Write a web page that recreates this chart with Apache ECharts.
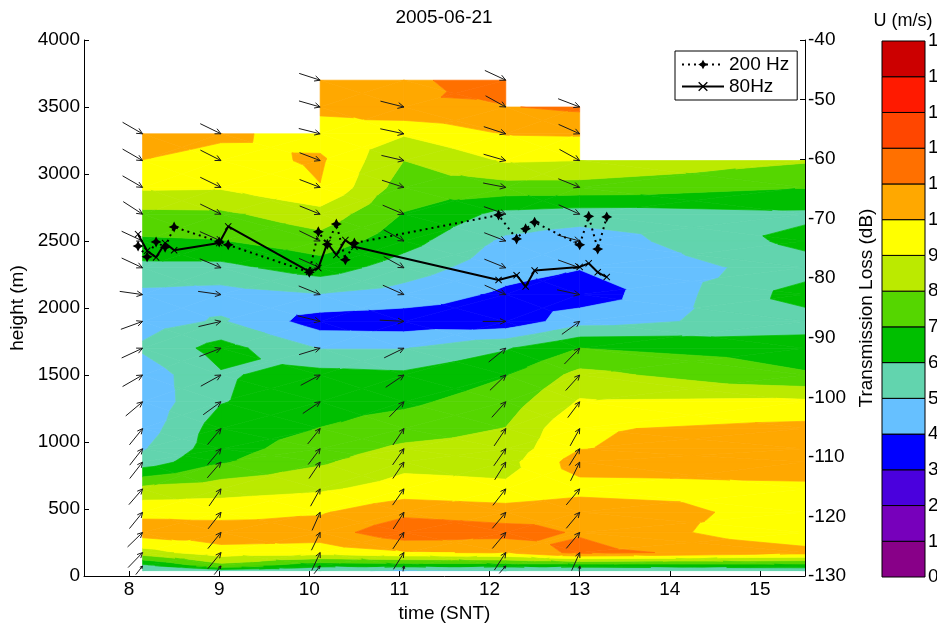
<!DOCTYPE html>
<html>
<head>
<meta charset="utf-8">
<title>2005-06-21</title>
<script src="https://cdn.jsdelivr.net/npm/echarts@6/dist/echarts.min.js"></script>
<style>
html, body { margin: 0; padding: 0; background: #fff; }
#chart { width: 937px; height: 623px; }
</style>
</head>
<body>
<div id="chart"></div>
<script>
// profile times (SNT) and range gates (m), top gate first
var profileTimes = [8.15, 9.02, 10.12, 11.05, 12.18, 13.0, 15.5];
var gateHeights = [3700, 3500, 3300, 3100, 2900, 2700, 2500, 2300, 2100, 1900, 1700, 1500, 1300, 1100, 950, 850, 650, 475, 325, 175, 75, 40];

// U (m/s) per profile, null = no data
var u0815 = [null, null, 10.6, 9.98, 9.15, 7.75, 6.85, 5.7, 4.75, 4.6, 5.15, 4.4, 4.3, 4.5, 4.9, 5.4, 8.3, 9.75, 10.5, 8.6, 5.7, 5.1];
var u0902 = [null, null, 10.2, 9.6, 9.1, 7.8, 6.95, 5.7, 4.6, 5.1, 6.4, 5.9, 5.95, 6.5, 6.6, 6.9, 8.6, 9.6, 10.6, 9.6, 7.6, 5.5];
var u1012 = [10.5, 10.2, 9.6, 10.15, 9.97, 8.6, 7.6, 6.5, 4.95, 3.5, 4.95, 6.35, 6.6, 7.02, 7.5, 7.85, 8.85, 9.9, 10.5, 9.5, 6.2, 5.3];
var u1105 = [10.8, 10.9, 9.1, 8.0, 7.5, 6.95, 6.4, 5.5, 4.6, 3.4, 4.95, 6.2, 6.8, 7.5, 8.2, 8.7, 9.4, 10.75, 11.7, 9.9, 6.3, 4.8];
var u1218 = [11.5, 10.95, 10.05, 9.1, 7.6, 5.7, 4.8, 4.4, 3.8, 3.3, 5.9, 6.95, 7.5, 8.03, 8.4, 8.65, 9.2, 10.5, 11.4, 10.1, 6.3, 5.0];
var u1300 = [null, 11.2, 10.1, 9.0, 7.6, 5.5, 4.4, 4.05, 3.4, 4.6, 7.0, 8.3, 9.1, 9.9, 9.97, 10.5, 9.6, 10.75, 10.9, 11.3, 6.3, 5.2];
var u1550 = [null, null, null, 8.1, 7.05, 5.8, 6.3, 5.5, 6.45, 5.5, 6.5, 7.1, 9.2, 10.3, 10.6, 10.5, 9.8, 9.5, 9.1, 10.4, 6.4, 5.4];
var uColumns = [u0815, u0902, u1012, u1105, u1218, u1300, u1550];

// wind arrows: heading (deg, screen) and speed (m/s), gates 3700..75
var dir0815 = [null, null, -30, -30, -30, -33, -25, -25, -8, 20, 25, 30, 40, 51, 52, 52, 49, 51, 44, 46, 52];
var dir0902 = [null, null, -26, -27, -26, -26, -24, -23, -8, 13, 21, 29, 36, 50, 50, 49, 55, 52, 51, 51, 52];
var dir1012 = [-18, -16, -14, -21, -21, -22, -26, -24, -22, -14, 17, 28, 34, 51, 53, 56, 61, 66, 64, 65, 52];
var dir1105 = [null, -14, -12, -13, -18, -23, -29, -29, -24, -3, 26, 34, 46, 56, 55, 56, 55, 57, 56, 58, 80];
var dir1218 = [-25, -29, -18, -16, -11, -19, -21, -22, -24, 0, 39, 44, 48, 56, 55, 58, 52, 50, 50, 57, 49];
var dir1300 = [null, -21, -24, -29, -22, -24, -15, -20, -12, 36, 46, 48, 53, 61, 58, 64, 50, 50, 50, 66, 85];
var spd0815 = [null, null, 10.5, 10.5, 10.5, 10.5, 10.5, 10.5, 10.5, 10.5, 10.5, 10.5, 10, 9.5, 9.5, 9.5, 9.5, 9.5, 9.5, 9.5, 5];
var spd0902 = [null, null, 10.5, 10.5, 10.5, 10.5, 10.5, 10.5, 10.5, 10.5, 10.5, 10.5, 10, 9.5, 9.5, 9.5, 9.5, 9.5, 9.5, 9.5, 5];
var spd1012 = [10, 10, 10, 10, 10, 10, 10.5, 10.5, 10.5, 10.5, 10, 10, 9.5, 9, 9, 9, 9, 9, 9, 9, 4.5];
var spd1105 = [null, 11, 11, 10.5, 10.5, 10.5, 10.5, 10.5, 10.5, 11, 10, 10, 9.5, 9, 9, 9, 9, 9, 9, 9, 2.5];
var spd1218 = [10.5, 10.5, 10.5, 10.5, 10.5, 10.5, 10.5, 10.5, 10.5, 10.5, 10, 10, 9.5, 9.5, 9.5, 9.5, 9.5, 9.5, 9.5, 9.5, 4.5];
var spd1300 = [null, 10.5, 10.5, 10.5, 10.5, 10.5, 10.5, 10.5, 10.5, 10, 10, 9.5, 9, 9, 9, 9.5, 9.5, 9.5, 9.5, 9, 2.5];
var windDirs = [dir0815, dir0902, dir1012, dir1105, dir1218, dir1300];
var windSpeeds = [spd0815, spd0902, spd1012, spd1105, spd1218, spd1300];

// transmission loss (dB)
var tlTimes = [8.1, 8.2, 8.3, 8.4, 8.5, 9.0, 9.1, 10.0, 10.1, 10.2, 10.3, 10.4, 10.5, 12.1, 12.3, 12.4, 12.5, 13.0, 13.1, 13.2, 13.3];
var tl200 = [-74.6, -76.4, -73.9, -74.8, -71.4, -73.9, -74.4, -79.0, -72.2, -74.3, -70.9, -76.9, -74.1, -69.4, -73.4, -71.7, -70.6, -74.4, -69.6, -75.1, -69.7];
var tl80 = [-72.6, -75.4, -76.5, -74.1, -75.3, -74.1, -71.3, -78.9, -78.3, -74.1, -76.1, -73.6, -74.7, -80.3, -79.5, -81.4, -78.7, -78.1, -77.5, -79.0, -79.8];

// colour levels
var uLevels = [0, 1, 2, 3, 4, 5, 6, 7, 8, 9, 10, 11, 12, 13, 14, 15];
var bandColors = ['#880088', '#7700bb', '#4a00dd', '#0000ff', '#66c0ff', '#62d4ae', '#00bf00', '#55d600', '#bbea00', '#ffff00', '#ffa800', '#ff7000', '#ff4600', '#ff1a00', '#cc0000'];
var timeTicks = [8, 9, 10, 11, 12, 13, 14, 15];

var FONT = "'Liberation Sans', Arial, Helvetica, sans-serif";
var PX_PER_MS = 2.2;

// keep part of polygon above (keepHigh) or below level, linear in value
function cut(poly, lv, keepHigh) {
    var out = [];
    for (var n = 0; n < poly.length; n++) {
        var a = poly[n], b = poly[(n + 1) % poly.length];
        var ia = keepHigh ? a[2] >= lv : a[2] <= lv;
        var ib = keepHigh ? b[2] >= lv : b[2] <= lv;
        if (ia) out.push(a);
        if (ia !== ib) {
            var f = (lv - a[2]) / (b[2] - a[2]);
            out.push([a[0] + f * (b[0] - a[0]), a[1] + f * (b[1] - a[1]), lv]);
        }
    }
    return out;
}
function polyArea(p) {
    var s = 0;
    for (var n = 0; n < p.length; n++) {
        var m = (n + 1) % p.length;
        s += p[n][0] * p[m][1] - p[m][0] * p[n][1];
    }
    return Math.abs(s / 2);
}

// cells with all four corners
var cellData = [];
for (var i = 0; i < profileTimes.length - 1; i++) {
    for (var j = 0; j < gateHeights.length - 1; j++) {
        var c = [uColumns[i][j], uColumns[i + 1][j], uColumns[i + 1][j + 1], uColumns[i][j + 1]];
        if (c.every(function (v) { return v !== null; })) {
            cellData.push([profileTimes[i], gateHeights[j], i, j]);
        }
    }
}

function renderCell(params, api) {
    var i = api.value(2), j = api.value(3);
    var idx = [[i, j], [i + 1, j], [i + 1, j + 1], [i, j + 1]];
    var pts = idx.map(function (k) {
        var p = api.coord([profileTimes[k[0]], gateHeights[k[1]]]);
        return [p[0], p[1], uColumns[k[0]][k[1]]];
    });
    var mid = [0, 0, 0];
    pts.forEach(function (p) { mid[0] += p[0] / 4; mid[1] += p[1] / 4; mid[2] += p[2] / 4; });
    var children = [];
    for (var t = 0; t < 4; t++) {
        var tri = [pts[t], pts[(t + 1) % 4], mid];
        var vs = tri.map(function (p) { return p[2]; });
        var lo = Math.max(0, Math.floor(Math.min.apply(null, vs)));
        var hi = Math.min(bandColors.length - 1, Math.floor(Math.max.apply(null, vs)));
        for (var k = lo; k <= hi; k++) {
            var poly = cut(cut(tri, uLevels[k], true), uLevels[k + 1], false);
            if (poly.length < 3 || polyArea(poly) < 0.05) continue;
            children.push({
                type: 'polygon',
                shape: { points: poly.map(function (p) { return [p[0], p[1]]; }) },
                style: { fill: bandColors[k], stroke: bandColors[k], lineWidth: 0.7, lineJoin: 'round' },
                silent: true
            });
        }
    }
    return { type: 'group', children: children };
}

// quiver arrows, tip on the gate
var arrowData = [];
windDirs.forEach(function (col, i) {
    col.forEach(function (d, j) {
        if (d === null) return;
        arrowData.push([profileTimes[i], gateHeights[j], d, windSpeeds[i][j]]);
    });
});
function renderArrow(params, api) {
    var tip = api.coord([api.value(0), api.value(1)]);
    var ang = api.value(2) * Math.PI / 180;
    var len = api.value(3) * PX_PER_MS;
    var tail = [tip[0] - Math.cos(ang) * len, tip[1] + Math.sin(ang) * len];
    var hl = Math.max(3, len * 0.28), back = ang + Math.PI;
    var h1 = [tip[0] + Math.cos(back + 0.45) * hl, tip[1] - Math.sin(back + 0.45) * hl];
    var h2 = [tip[0] + Math.cos(back - 0.45) * hl, tip[1] - Math.sin(back - 0.45) * hl];
    var st = { stroke: '#1a1a1a', lineWidth: 1, fill: null };
    return {
        type: 'group',
        children: [
            { type: 'polyline', shape: { points: [tail, tip] }, style: st, silent: true },
            { type: 'polyline', shape: { points: [h1, tip, h2] }, style: st, silent: true }
        ]
    };
}

// colour bar boxes
var barData = [];
for (var k = 0; k < bandColors.length; k++) barData.push([0, uLevels[k], uLevels[k + 1], k]);
function renderBox(params, api) {
    var p0 = api.coord([0, api.value(1)]);
    var p1 = api.coord([1, api.value(2)]);
    return {
        type: 'rect',
        shape: { x: p0[0], y: p1[1], width: p1[0] - p0[0], height: p0[1] - p1[1] },
        style: { fill: bandColors[api.value(3)], stroke: '#000', lineWidth: 1 }
    };
}

var starSymbol = 'path://M0,-10 L3.4,-3.4 L10,0 L3.4,3.4 L0,10 L-3.4,3.4 L-10,0 L-3.4,-3.4 Z';
var crossSymbol = 'path://M-5,-4 L-4,-5 L0,-1 L4,-5 L5,-4 L1,0 L5,4 L4,5 L0,1 L-4,5 L-5,4 L-1,0 Z';
var plainNumber = function (v) { return String(v); };

var chart = echarts.init(document.getElementById('chart'));
var labelStyle = { fontSize: 19, color: '#000', fontFamily: FONT };
var option = {
    animation: false,
    textStyle: { fontFamily: FONT },
    title: [
        { text: '2005-06-21', left: 444, top: 8, textAlign: 'center', padding: 0,
          textStyle: { fontSize: 19, fontWeight: 'normal', color: '#000', fontFamily: FONT } },
        { text: 'U (m/s)', left: 903, top: 12, textAlign: 'center', padding: 0,
          textStyle: { fontSize: 18, fontWeight: 'normal', color: '#000', fontFamily: FONT } }
    ],
    legend: {
        data: ['200 Hz', '80Hz'],
        orient: 'vertical', left: 675, top: 51,
        itemWidth: 42, itemHeight: 12, itemGap: 3,
        padding: [4, 8, 4, 6],
        borderColor: '#000', borderWidth: 1, backgroundColor: '#fff',
        selectedMode: false,
        textStyle: labelStyle
    },
    grid: [
        { left: 84, right: 132, top: 40, bottom: 47, outerBoundsMode: 'none' },
        { left: 882, width: 43, top: 41, height: 536, outerBoundsMode: 'none' }
    ],
    xAxis: [
        {
            type: 'value', gridIndex: 0, min: 7.5, max: 15.5,
            name: 'time (SNT)', nameLocation: 'middle', nameGap: 19, nameTextStyle: labelStyle,
            axisLine: { lineStyle: { color: '#000' } },
            axisTick: { inside: true, length: 5, customValues: timeTicks, lineStyle: { color: '#000' } },
            axisLabel: { customValues: timeTicks, margin: 4, fontSize: 19, color: '#000', fontFamily: FONT },
            splitLine: { show: false }
        },
        { type: 'value', gridIndex: 1, min: 0, max: 1, show: false }
    ],
    yAxis: [
        {
            type: 'value', gridIndex: 0, min: 0, max: 4000, interval: 500,
            name: 'height (m)', nameLocation: 'middle', nameGap: 40, nameRotate: 90, nameTextStyle: labelStyle,
            axisLine: { show: true, lineStyle: { color: '#000' } },
            axisTick: { show: true, inside: true, length: 5, lineStyle: { color: '#000' } },
            axisLabel: { margin: 4, fontSize: 19, color: '#000', fontFamily: FONT, formatter: plainNumber },
            splitLine: { show: false }
        },
        {
            type: 'value', gridIndex: 0, position: 'right', min: -130, max: -40, interval: 10,
            name: 'Transmission Loss (dB)', nameLocation: 'middle', nameGap: 44, nameRotate: 90, nameTextStyle: labelStyle,
            axisLine: { show: true, lineStyle: { color: '#000' } },
            axisTick: { show: true, inside: true, length: 5, lineStyle: { color: '#000' } },
            axisLabel: { margin: 3, fontSize: 19, color: '#000', fontFamily: FONT, formatter: plainNumber },
            splitLine: { show: false }
        },
        {
            type: 'value', gridIndex: 1, position: 'right', min: 0, max: 15, interval: 1,
            axisLine: { show: false }, axisTick: { show: false }, splitLine: { show: false },
            axisLabel: { margin: 3, fontSize: 19, color: '#000', fontFamily: FONT }
        }
    ],
    series: [
        {
            type: 'custom', name: 'U', xAxisIndex: 0, yAxisIndex: 0,
            data: cellData, encode: { x: 0, y: 1 }, renderItem: renderCell, clip: true, z: 1, silent: true
        },
        {
            type: 'custom', name: 'wind', xAxisIndex: 0, yAxisIndex: 0,
            data: arrowData, encode: { x: 0, y: 1 }, renderItem: renderArrow, z: 2, silent: true
        },
        {
            name: '200 Hz', type: 'line', xAxisIndex: 0, yAxisIndex: 1,
            data: tlTimes.map(function (t, n) { return [t, tl200[n]]; }),
            symbol: starSymbol, symbolSize: 11,
            lineStyle: { color: '#000', width: 2, type: [2, 4] },
            itemStyle: { color: '#000' }, z: 5
        },
        {
            name: '80Hz', type: 'line', xAxisIndex: 0, yAxisIndex: 1,
            data: tlTimes.map(function (t, n) { return [t, tl80[n]]; }),
            symbol: crossSymbol, symbolSize: 7,
            lineStyle: { color: '#000', width: 2 },
            itemStyle: { color: '#000' }, z: 6
        },
        {
            type: 'custom', name: 'colorbar', xAxisIndex: 1, yAxisIndex: 2,
            data: barData, encode: { x: 0, y: 1 }, renderItem: renderBox, silent: true
        }
    ]
};
chart.setOption(option);
window.addEventListener('resize', function () { chart.resize(); });
</script>
</body>
</html>
